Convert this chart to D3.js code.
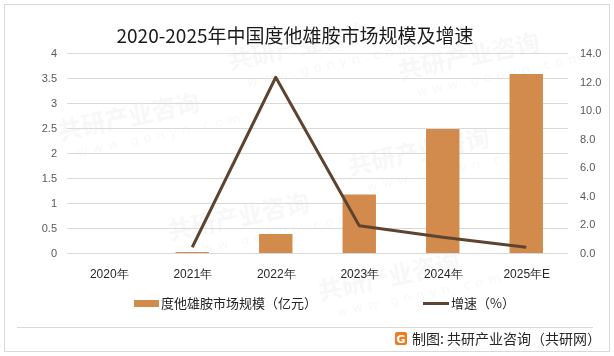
<!DOCTYPE html>
<html>
<head>
<meta charset="utf-8">
<script src="https://cdn.jsdelivr.net/npm/d3@7"></script>
<style>
  body { margin: 0; background: #fff; }
  svg { display: block; font-family: "Noto Sans CJK SC", "Microsoft YaHei", sans-serif; }
</style>
</head>
<body>
<svg width="614" height="356"></svg>
<script>
// data
var years = ["2020年", "2021年", "2022年", "2023年", "2024年", "2025年E"];
var marketSize = [0, 0.02, 0.38, 1.17, 2.48, 3.58];     // 亿元
var growthRate = [null, 0.4, 12.3, 1.9, 1.1, 0.4];      // %
var leftTicks = [0, 0.5, 1, 1.5, 2, 2.5, 3, 3.5, 4];
var rightTicks = [0, 2, 4, 6, 8, 10, 12, 14];

var barColor = "#D38B4D";
var lineColor = "#5E4430";

var svg = d3.select("svg"),
    width = +svg.attr("width"),
    height = +svg.attr("height");

var margin = {left: 67, right: 46, top: 53, bottom: 103};
var plotW = width - margin.left - margin.right,
    plotH = height - margin.top - margin.bottom;

// outer frame
svg.append("rect")
    .attr("x", 4.5).attr("y", 4.5)
    .attr("width", width - 9).attr("height", height - 9)
    .attr("fill", "#fff")
    .attr("stroke", "#d9d9d9");

// faint watermark, kept inside the frame
var wm = svg.append("g").attr("fill", "#000").attr("opacity", 0.035);
[[60, 140], [230, 70], [350, 175], [170, 240], [320, 300], [400, 80]].forEach(function (p) {
    var g = wm.append("g").attr("transform", "translate(" + p[0] + "," + p[1] + ") rotate(-12)");
    g.append("text").attr("font-size", 24).attr("font-weight", "bold").text("共研产业咨询");
    g.append("text").attr("y", 20).attr("x", 14).attr("font-size", 13)
        .attr("letter-spacing", 5).attr("font-family", "DejaVu Sans").text("www.gonyn.com");
});

svg.append("text")
    .attr("x", 295).attr("y", 43)
    .attr("text-anchor", "middle")
    .attr("font-size", 19)
    .attr("fill", "#1a1a1a")
    .text("2020-2025年中国度他雄胺市场规模及增速");

var g = svg.append("g").attr("transform", "translate(" + margin.left + "," + margin.top + ")");

var x = d3.scaleBand().domain(years).range([0, plotW]).paddingInner(0.6).paddingOuter(0.3);
var xc = d3.scalePoint().domain(years).range([0, plotW]).padding(0.5);
var y = d3.scaleLinear().domain([0, 4]).range([plotH, 0]);
var y2 = d3.scaleLinear().domain([0, 14]).range([plotH, 0]);

// gridlines
g.append("g").selectAll("line")
    .data(leftTicks)
    .enter().append("line")
    .attr("x1", 0).attr("x2", plotW)
    .attr("y1", function (d) { return Math.round(y(d)) + 0.5; })
    .attr("y2", function (d) { return Math.round(y(d)) + 0.5; })
    .attr("stroke", "#d9d9d9");

// left axis
var yAxis = g.append("g")
    .call(d3.axisLeft(y).tickValues(leftTicks).tickSize(0).tickPadding(10).tickFormat(d3.format("")));
yAxis.select(".domain").remove();
yAxis.selectAll("text").attr("font-size", 11).attr("fill", "#595959")
    .attr("font-family", "Liberation Sans, Arial, sans-serif");

// right axis
var y2Axis = g.append("g").attr("transform", "translate(" + plotW + ",0)")
    .call(d3.axisRight(y2).tickValues(rightTicks).tickSize(0).tickPadding(12).tickFormat(d3.format(".1f")));
y2Axis.select(".domain").remove();
y2Axis.selectAll("text").attr("font-size", 11).attr("fill", "#595959")
    .attr("font-family", "Liberation Sans, Arial, sans-serif");

// x labels
var xAxis = g.append("g").attr("transform", "translate(0," + plotH + ")")
    .call(d3.axisBottom(xc).tickSize(0).tickPadding(16));
xAxis.select(".domain").remove();
xAxis.selectAll("text").attr("font-size", 12).attr("fill", "#262626");

// bars
g.append("g").selectAll("rect")
    .data(marketSize)
    .enter().append("rect")
    .attr("x", function (d, i) { return x(years[i]); })
    .attr("width", x.bandwidth())
    .attr("y", function (d) { return y(d); })
    .attr("height", function (d) { return plotH - y(d); })
    .attr("fill", barColor);

// growth line
var line = d3.line()
    .defined(function (d) { return d != null; })
    .x(function (d, i) { return xc(years[i]); })
    .y(function (d) { return y2(d); });

g.append("path")
    .datum(growthRate)
    .attr("d", line)
    .attr("fill", "none")
    .attr("stroke", lineColor)
    .attr("stroke-width", 3)
    .attr("stroke-linejoin", "round");

// legend
var leg = svg.append("g").attr("font-size", 13).attr("fill", "#262626");
leg.append("rect").attr("x", 134).attr("y", 300).attr("width", 25).attr("height", 7).attr("fill", barColor);
leg.append("text").attr("x", 161).attr("y", 308).text("度他雄胺市场规模（亿元）");
leg.append("line").attr("x1", 423).attr("x2", 449).attr("y1", 303.5).attr("y2", 303.5)
    .attr("stroke", lineColor).attr("stroke-width", 3);
leg.append("text").attr("x", 451).attr("y", 308).text("增速（%）");

// footer
svg.append("line")
    .attr("x1", 17).attr("x2", 593).attr("y1", 327.5).attr("y2", 327.5)
    .attr("stroke", "#d9d9d9");
var logo = svg.append("g").attr("transform", "translate(395,332)");
logo.append("rect").attr("width", 12).attr("height", 13).attr("rx", 2).attr("fill", "#F07A1E");
logo.append("text").attr("x", 6).attr("y", 11).attr("text-anchor", "middle")
    .attr("font-size", 11).attr("font-weight", "bold").attr("fill", "#fff")
    .attr("font-family", "DejaVu Sans").text("G");
svg.append("text")
    .attr("x", 412).attr("y", 344)
    .attr("font-size", 14)
    .attr("fill", "#262626")
    .text("制图: 共研产业咨询（共研网）");
</script>
</body>
</html>
